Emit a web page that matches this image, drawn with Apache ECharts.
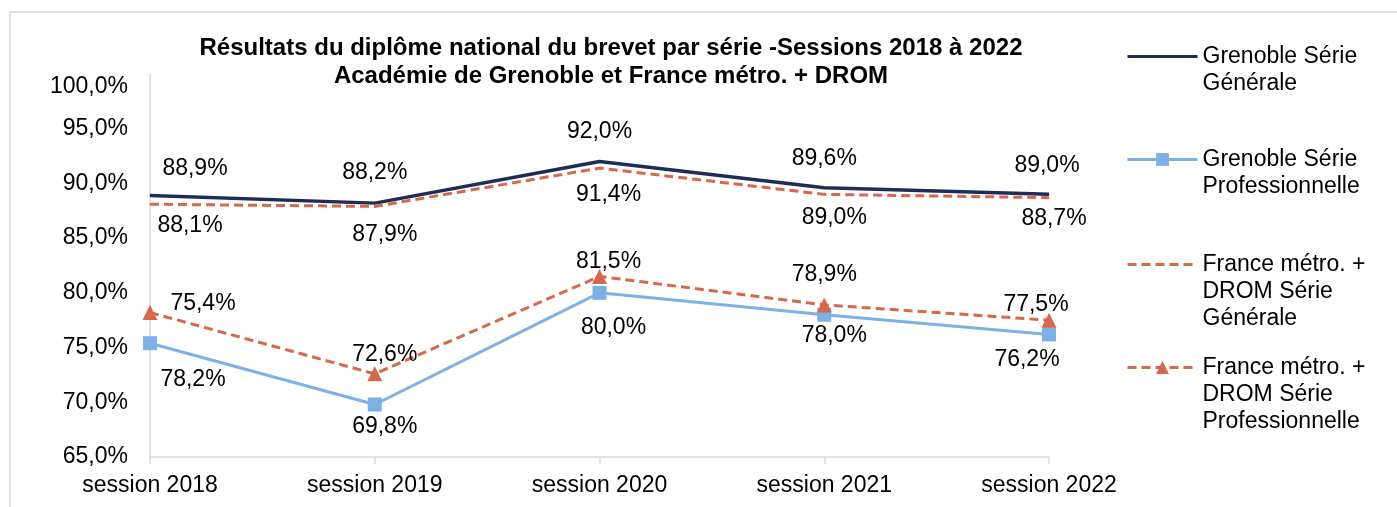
<!DOCTYPE html>
<html>
<head>
<meta charset="utf-8">
<script src="https://cdn.jsdelivr.net/npm/echarts@6/dist/echarts.min.js"></script>
<style>
  html, body { margin: 0; padding: 0; background: #fff; }
  #chart { width: 1397px; height: 507px; }
</style>
</head>
<body>
<div id="chart"></div>
<script>
// données
var sessions = ['session 2018', 'session 2019', 'session 2020', 'session 2021', 'session 2022'];
var grenobleGen = [88.9, 88.2, 92.0, 89.6, 89.0];
var grenoblePro = [75.4, 69.8, 80.0, 78.0, 76.2];
var franceGen = [88.1, 87.9, 91.4, 89.0, 88.7];
var francePro = [78.2, 72.6, 81.5, 78.9, 77.5];
// étiquettes telles qu'affichées (2018 inversées dans l'original)
var grenobleProLabels = [78.2, 69.8, 80.0, 78.0, 76.2];
var franceProLabels = [75.4, 72.6, 81.5, 78.9, 77.5];

var names = [
  'Grenoble Série\nGénérale',
  'Grenoble Série\nProfessionnelle',
  'France métro. +\nDROM Série\nGénérale',
  'France métro. +\nDROM Série\nProfessionnelle'
];

// décalage des étiquettes (placées à la main dans l'original)
var offGrenGen = [[45, -27], [0, -30], [0, -30], [0, -29], [-2, -29]];
var offGrenPro = [[43, 36], [10, 22], [14, 35], [10, 21], [-22, 25]];
var offFrGen = [[40, 21], [10, 28], [9, 27], [10, 23], [5, 21]];
var offFrPro = [[53, -9], [10, -19], [9, -15], [0, -30], [-13, -16]];

var FONT = "'Liberation Sans', Arial, sans-serif";
var NAVY = '#1F2D56';
var BLUE = '#7DB0E6';
var ORANGE = '#D6694B';

function pct(v) {
  return v.toFixed(1).replace('.', ',') + '%';
}

function points(values, labels, offsets) {
  return values.map(function (v, i) {
    return {
      value: v,
      label: { offset: offsets[i], formatter: pct(labels[i]) }
    };
  });
}

// le texte est centré sur l'icône : on ajoute des lignes vides au-dessus
// pour que l'icône tombe sur la première ligne
function makeLegend(i, top, lineStyle, itemStyle) {
  return {
    data: [names[i]],
    orient: 'vertical',
    left: 1126,
    top: top,
    padding: 0,
    itemWidth: 70,
    itemHeight: 16,
    itemGap: 0,
    selectedMode: false,
    lineStyle: lineStyle,
    itemStyle: itemStyle,
    formatter: function (name) {
      var n = name.split('\n').length;
      return new Array(n).join('\n') + name;
    },
    textStyle: {
      fontFamily: FONT,
      fontSize: 23,
      lineHeight: 27,
      color: '#000'
    }
  };
}

var labelBase = {
  show: true,
  position: 'inside',
  fontFamily: FONT,
  fontSize: 23,
  color: '#000'
};

var myChart = echarts.init(document.getElementById('chart'));
var option = {
  animation: false,
  backgroundColor: '#fff',
  graphic: [{
    type: 'rect',
    silent: true,
    shape: { x: 10, y: 12, width: 1400, height: 520 },
    style: { fill: 'none', stroke: '#D9D9D9', lineWidth: 1.5 }
  }],
  title: {
    text: 'Résultats du diplôme national du brevet par série -Sessions 2018 à 2022\nAcadémie de Grenoble et France métro. + DROM',
    left: 611,
    top: 34,
    padding: 0,
    textAlign: 'center',
    textStyle: {
      fontFamily: FONT,
      fontSize: 24,
      fontWeight: 'bold',
      lineHeight: 28,
      color: '#000'
    }
  },
  legend: [
    makeLegend(0, 16, { color: NAVY, width: 3, type: 'solid' }, { color: 'rgba(0,0,0,0)', borderWidth: 0 }),
    makeLegend(1, 119, { color: BLUE, width: 3, type: 'solid' }, { color: BLUE, borderWidth: 0 }),
    makeLegend(2, 197, { color: ORANGE, width: 3, type: [9, 5] }, { color: 'rgba(0,0,0,0)', borderWidth: 0 }),
    makeLegend(3, 300, { color: ORANGE, width: 3, type: [9, 5] }, { color: ORANGE, borderWidth: 0 })
  ],
  grid: { left: 150, right: 348, top: 74, bottom: 50 },
  xAxis: {
    type: 'category',
    data: sessions,
    boundaryGap: false,
    axisLine: { lineStyle: { color: '#D9D9D9', width: 1.5 } },
    axisTick: { show: true, length: 7, lineStyle: { color: '#D9D9D9', width: 1.5 } },
    axisLabel: { fontFamily: FONT, fontSize: 23, color: '#000', margin: 17 },
    splitLine: { show: false }
  },
  yAxis: {
    type: 'value',
    min: 65,
    max: 100,
    interval: 5,
    axisLine: { show: true, lineStyle: { color: '#D9D9D9', width: 1.5 } },
    axisTick: { show: false },
    splitLine: { show: false },
    axisLabel: {
      fontFamily: FONT,
      fontSize: 23,
      color: '#000',
      margin: 22,
      formatter: function (v) {
        if (v === 100) return '{top|' + pct(v) + '}';
        return pct(v);
      },
      rich: {
        top: { fontFamily: FONT, fontSize: 23, color: '#000', padding: [26, 0, 0, 0] }
      }
    }
  },
  series: [
    {
      name: names[0],
      type: 'line',
      data: points(grenobleGen, grenobleGen, offGrenGen),
      symbol: 'circle',
      symbolSize: 1,
      itemStyle: { color: NAVY },
      lineStyle: { color: NAVY, width: 3.5 },
      label: labelBase
    },
    {
      name: names[1],
      type: 'line',
      data: points(grenoblePro, grenobleProLabels, offGrenPro),
      symbol: 'rect',
      symbolSize: 14,
      itemStyle: { color: BLUE },
      lineStyle: { color: BLUE, width: 3 },
      label: labelBase
    },
    {
      name: names[2],
      type: 'line',
      data: points(franceGen, franceGen, offFrGen),
      symbol: 'circle',
      symbolSize: 1,
      itemStyle: { color: ORANGE },
      lineStyle: { color: ORANGE, width: 3, type: [9, 5] },
      label: labelBase
    },
    {
      name: names[3],
      type: 'line',
      data: points(francePro, franceProLabels, offFrPro),
      symbol: 'triangle',
      symbolSize: 15,
      itemStyle: { color: ORANGE },
      lineStyle: { color: ORANGE, width: 3, type: [9, 5] },
      label: labelBase
    }
  ]
};
myChart.setOption(option);
</script>
</body>
</html>
